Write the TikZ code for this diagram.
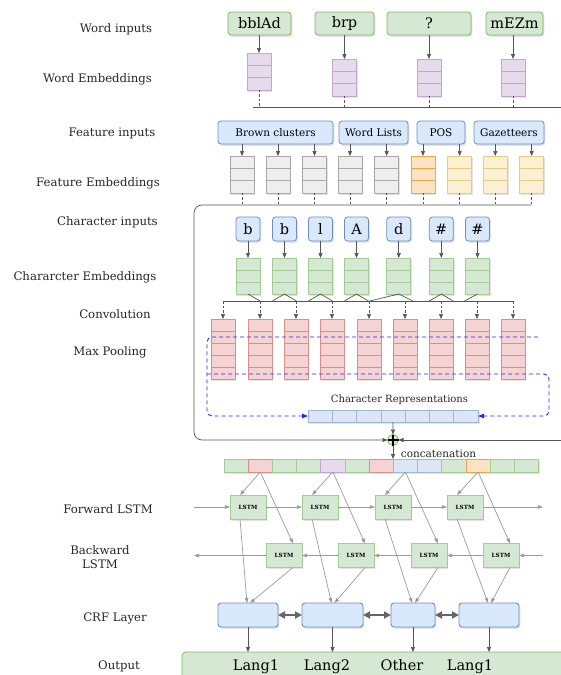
\documentclass[tikz,border=0pt]{standalone}
\usepackage{fontspec}
\setmainfont{DejaVu Serif}
\usetikzlibrary{arrows.meta,calc,shadows}
\definecolor{gfill}{HTML}{D5E8D4}\definecolor{gdraw}{HTML}{82B366}
\definecolor{gline}{HTML}{A3CC94}
\definecolor{bfill}{HTML}{DAE8FC}\definecolor{bdraw}{HTML}{6C8EBF}
\definecolor{cfill}{HTML}{DCE6F4}\definecolor{cdraw}{HTML}{9FB7D8}
\definecolor{pfill}{HTML}{E6DBEC}\definecolor{pdraw}{HTML}{C4A6CE}
\definecolor{rfill}{HTML}{F5D3D2}\definecolor{rdraw}{HTML}{D8908D}
\definecolor{kfill}{HTML}{EEEEEE}\definecolor{kdraw}{HTML}{A8A8A8}
\definecolor{ofill}{HTML}{FCE3C4}\definecolor{odraw}{HTML}{E8A94A}
\definecolor{yfill}{HTML}{FBF0D2}\definecolor{ydraw}{HTML}{E6CC85}
\definecolor{linec}{HTML}{555555}
\definecolor{lgray}{HTML}{9A9A9A}
\definecolor{dgray}{HTML}{666666}
\newcommand{\embox}[7]{%
  \pgfmathsetmacro{\ebh}{#4*#5}%
  \node[emb, fill=#6, draw=#7, minimum height=\ebh pt, anchor=north] (#1) at (#2,#3) {};%
  \pgfmathtruncatemacro{\ebn}{#4-1}%
  \foreach \k in {1,...,\ebn}{\draw[draw=#7, line width=0.7pt] ($(#1.north west)!\k/#4!(#1.south west)$) -- ($(#1.north east)!\k/#4!(#1.south east)$);}%
}
\begin{document}
\begin{tikzpicture}[x=1pt,y=-1pt,
  shd/.style={drop shadow={opacity=0.22, shadow xshift=1.4pt, shadow yshift=-1.8pt}},
  rbox/.style={draw, rounded corners=3pt, line width=0.8pt, inner sep=0pt, outer sep=0pt, shd},
  wordin/.style={rbox, fill=gfill, draw=gdraw, minimum height=23pt, font=\fontsize{14.5}{16}\selectfont},
  featin/.style={rbox, fill=bfill, draw=bdraw, minimum height=23pt, font=\fontsize{10.5}{12}\selectfont},
  charin/.style={rbox, fill=bfill, draw=bdraw, minimum width=24pt, minimum height=24pt, font=\fontsize{14.5}{16}\selectfont},
  emb/.style={draw, line width=0.7pt, minimum width=24pt, inner sep=0pt, outer sep=0pt, shd},
  cell/.style={draw, line width=0.7pt, inner sep=0pt, outer sep=0pt, shd},
  lstm/.style={draw=gline, fill=gfill, line width=0.7pt, minimum width=36pt, minimum height=24pt, inner sep=0pt, outer sep=0pt, shd, font=\fontsize{5.7}{6}\selectfont\bfseries},
  crf/.style={rbox, fill=bfill, draw=bdraw, minimum height=24pt, line width=0.9pt},
  lab/.style={font=\fontsize{11.7}{14}\selectfont, text=black!85, align=center},
  outlab/.style={font=\fontsize{14.5}{16}\selectfont, anchor=base},
  arr/.style={draw=linec, line width=0.7pt, -{Triangle[length=5pt,width=4pt]}},
  garr/.style={draw=lgray, line width=0.7pt, -{Triangle[length=5pt,width=3.5pt]}},
  conn/.style={draw=linec, line width=0.7pt},
  dsh/.style={conn, dash pattern=on 2.5pt off 2pt},
  dsharr/.style={arr, dash pattern=on 2.5pt off 2pt},
  bdash/.style={draw=blue!85!white, line width=0.9pt, dash pattern=on 4pt off 3pt, -{Triangle[length=6pt,width=4.5pt]}},
  dbl/.style={draw=dgray, line width=1.8pt, {Triangle[length=7pt,width=7pt]}-{Triangle[length=7pt,width=7pt]}}
]
\path[use as bounding box] (0,0) rectangle (561,675);
\clip (0,0) rectangle (561,675);

% ---------- left labels ----------
\node[lab] (l1) at (116,29) {Word inputs};
\node[lab] (l2) at (97.5,79) {Word Embeddings};
\node[lab] (l3) at (112,133) {Feature inputs};
\node[lab] (l4) at (98,183) {Feature Embeddings};
\node[lab] (l5) at (107.5,222) {Character inputs};
\node[lab] (l6) at (85,277) {Chararcter Embeddings};
\node[lab] (l7) at (115,314) {Convolution};
\node[lab] (l8) at (110,352) {Max Pooling};
\node[lab] (l9) at (108,509) {Forward LSTM};
\node[lab] (l10) at (100,557) {Backward\\LSTM};
\node[lab] (l11) at (115,618) {CRF Layer};
\node[lab] (l12) at (119,666) {Output};

% ---------- word inputs ----------
\node[wordin, minimum width=63pt] (w1) at (259.5,23.5) {bblAd};
\node[wordin, minimum width=59pt] (w2) at (344.5,23.5) {brp};
\node[wordin, minimum width=84pt] (w3) at (429,23.5) {?};
\node[wordin, minimum width=57pt] (w4) at (514.5,23.5) {mEZm};
\embox{we1}{259}{53}{3}{12.3}{pfill}{pdraw}
\embox{we2}{344.5}{59}{3}{12.3}{pfill}{pdraw}
\embox{we3}{429}{59}{3}{12.3}{pfill}{pdraw}
\embox{we4}{513}{59}{3}{12.3}{pfill}{pdraw}
\foreach \i in {1,...,4}{\draw[arr] (we\i.north |- w\i.south) -- (we\i.north);}
\coordinate (wlL) at (253,107.5);
\coordinate (wlR) at (561,107.5);
\draw[conn] (wlL) -- (wlR);
\foreach \i in {1,...,4}{\draw[dsh] (we\i.south) -- (we\i.south |- wlL);}

% ---------- feature inputs ----------
\node[featin, minimum width=115pt] (fi1) at (275.5,132.5) {Brown clusters};
\node[featin, minimum width=69pt] (fi2) at (373.5,132.5) {Word Lists};
\node[featin, minimum width=48pt] (fi3) at (441,132.5) {POS};
\node[featin, minimum width=70pt] (fi4) at (509,132.5) {Gazetteers};
\foreach \x/\fc/\dc [count=\i] in {242/kfill/kdraw, 278/kfill/kdraw, 314.5/kfill/kdraw, 350/kfill/kdraw, 386.7/kfill/kdraw, 423/ofill/odraw, 459.7/yfill/ydraw, 495.3/yfill/ydraw, 531.7/yfill/ydraw}{
  \embox{fe\i}{\x}{156}{3}{12.3}{\fc}{\dc}
}
\foreach \i/\j in {1/1,2/1,3/1,4/2,5/2,6/3,7/3,8/4,9/4}{\draw[arr] (fe\i.north |- fi\j.south) -- (fe\i.north);}

% ---------- character inputs ----------
\foreach \x/\c [count=\i] in {248/b, 284.5/b, 320.5/l, 356.5/A, 398.8/d, 441.3/\#, 477.5/\#}{
  \node[charin] (ci\i) at (\x,229) {\c};
  \embox{ce\i}{\x}{258}{3}{12}{gfill}{gline}
  \draw[arr] (ci\i.south) -- (ce\i.north);
}

% ---------- convolution ----------
\foreach \x [count=\i] in {223,260,296,332,369,405,441,477,513}{
  \embox{rd\i}{\x}{319}{5}{12}{rfill}{rdraw}
}
\coordinate (cv) at (0,301);
\draw[conn] (rd1.north |- cv) -- (rd9.north |- cv);
\foreach \i in {1,...,9}{\draw[dsharr] (rd\i.north |- cv) -- (rd\i.north);}
\draw[conn] (ce1.south) -- ++(12,7);
\foreach \i in {2,3,4,6}{\draw[conn] ($(ce\i.south)+(-12,7)$) -- (ce\i.south) -- ++(12,7);}
\draw[conn] ($(ce5.south)+(-29,7)$) -- (ce5.south) -- ++(14,7);
\draw[conn] ($(ce7.south)+(-13,7)$) -- (ce7.south);

% ---------- character representation ----------
\foreach \i in {1,...,7}{
  \node[cell, fill=cfill, draw=cdraw, minimum width=24.3pt, minimum height=12pt] (cr\i) at ({308+24.3*(\i-0.5)},416) {};
}
\node[font=\fontsize{10}{12}\selectfont, text=black!85] (crl) at (399.5,400) {Character Representations};
\coordinate (bd1) at (538,337);
\coordinate (bd2) at (207,374);
\draw[bdash, rounded corners=5pt] (bd1) -- (207,337) -- (207,416) -- (cr1.west);
\draw[bdash, rounded corners=5pt] (bd2) -- (549,374) -- (549,416) -- (cr7.east);

% ---------- concatenation ----------
\node[circle, draw=gdraw, fill=gfill, minimum size=11pt, inner sep=0pt, outer sep=0pt, line width=0.7pt] (plus) at (393,440) {};
\draw[line width=1.6pt] ($(plus)+(-5.5,0)$) -- ($(plus)+(5.5,0)$) ($(plus)+(0,-5.5)$) -- ($(plus)+(0,5.5)$);
\coordinate (fl) at (194,205);
\coordinate (pr) at (561,440);
\draw[arr, rounded corners=8pt] (fe9.south |- fl) -- (fl) -- (fl |- plus) -- (plus.west);
\foreach \i in {1,...,9}{\draw[dsh] (fe\i.south) -- (fe\i.south |- fl);}
\draw[arr] (pr) -- (plus.east);
\draw[arr] (cr4.south) -- (plus.north);
\foreach \fc/\dc [count=\i] in {gfill/gline, rfill/rdraw, gfill/gline, gfill/gline, pfill/pdraw, gfill/gline, rfill/rdraw, cfill/cdraw, cfill/cdraw, gfill/gline, ofill/odraw, gfill/gline, gfill/gline}{
  \node[cell, fill=\fc, draw=\dc, minimum width=24.2pt, minimum height=13pt] (c\i) at ({224+24.2*(\i-0.5)},465.5) {};
}
\draw[arr] (plus.south) -- (plus.south |- c8.north);
\node[font=\fontsize{10.5}{12}\selectfont, text=black!85] (cat) at (438.5,454) {concatenation};

% ---------- LSTMs ----------
\foreach \x [count=\i] in {248,320,393,465}{\node[lstm] (f\i) at (\x,507) {LSTM};}
\foreach \x [count=\i] in {284,356,429,501}{\node[lstm] (b\i) at (\x,555.5) {LSTM};}
\coordinate (flL) at (194,507);
\coordinate (flR) at (543,507);
\coordinate (blL) at (194,555.5);
\coordinate (blR) at (543,555.5);
\draw[garr] (flL) -- (f1.west);
\draw[garr] (f1.east) -- (f2.west);
\draw[garr] (f2.east) -- (f3.west);
\draw[garr] (f3.east) -- (f4.west);
\draw[garr] (f4.east) -- (flR);
\draw[garr] (blR) -- (b4.east);
\draw[garr] (b4.west) -- (b3.east);
\draw[garr] (b3.west) -- (b2.east);
\draw[garr] (b2.west) -- (b1.east);
\draw[garr] (b1.west) -- (blL);
\foreach \c/\i in {2/1,5/2,8/3,11/4}{
  \draw[garr] (c\c.south) -- ($(f\i.north)+(-8,0)$);
  \draw[garr] (c\c.south) -- ($(b\i.north)+(9,0)$);
}

% ---------- CRF ----------
\node[crf, minimum width=60pt] (crf1) at (248,615) {};
\node[crf, minimum width=61pt] (crf2) at (332.5,615) {};
\node[crf, minimum width=44pt] (crf3) at (413,615) {};
\node[crf, minimum width=60pt] (crf4) at (489,615) {};
\foreach \i in {1,...,4}{
  \draw[garr] ($(f\i.south)+(-8,0)$) -- ($(crf\i.north)+(-1,0)$);
  \draw[garr] ($(b\i.south)+(9,0)$) -- ($(crf\i.north)+(2,0)$);
}
\draw[dbl] (crf1.east) -- (crf2.west);
\draw[dbl] (crf2.east) -- (crf3.west);
\draw[dbl] (crf3.east) -- (crf4.west);

% ---------- output ----------
\node[rbox, fill=gfill, draw=gdraw, minimum width=400pt, minimum height=40pt, anchor=north west, rounded corners=4pt] (out) at (182,652) {};
\foreach \i in {1,...,4}{\draw[arr] (crf\i.south) -- (crf\i.south |- out.north);}
\node[outlab] (o1) at (256,670.5) {Lang1};
\node[outlab] (o2) at (327,670.5) {Lang2};
\node[outlab] (o3) at (402,670.5) {Other};
\node[outlab] (o4) at (470,670.5) {Lang1};
\end{tikzpicture}
\end{document}
